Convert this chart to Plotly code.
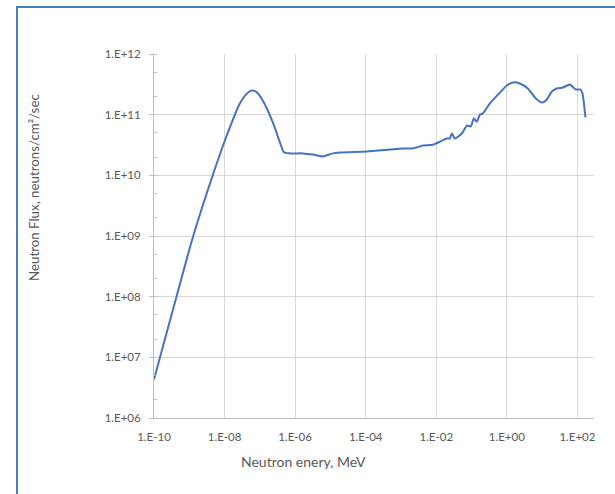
import plotly.graph_objects as go

# Neutron energy (MeV) and flux (neutrons/cm^2/sec)
energy_mev = [
    1.0e-10, 1.48e-10, 4.33e-10, 1.27e-9, 4.7e-9, 1.1e-8, 2.7e-8, 4.2e-8, 5.9e-8, 8.1e-8,
    1.22e-7, 2.35e-7, 3.7e-7, 4.8e-7, 7.1e-7, 1.66e-6, 3.2e-6, 6.1e-6, 1.18e-5,
    1.86e-5, 1.08e-4, 4.85e-4, 1.13e-3, 2.17e-3, 4.2e-3, 8.0e-3, 2.0e-2, 2.43e-2,
    2.77e-2, 3.37e-2, 5.3e-2, 7.4e-2, 9.5e-2, 0.116, 0.141, 0.172, 0.209, 0.33,
    0.63, 1.0, 1.48, 2.33, 3.93, 6.6, 10.3, 13.6, 18.8, 26.0, 38.6, 61.0, 74.0,
    90.0, 122.0, 139.0, 169.0,
]
flux = [
    4.3e6, 1.0e7, 1.0e8, 9.6e8, 1.03e10, 4.2e10, 1.53e11, 2.2e11, 2.5e11, 2.35e11,
    1.7e11, 7.4e10, 3.5e10, 2.4e10, 2.3e10, 2.3e10, 2.2e10, 2.05e10, 2.3e10,
    2.38e10, 2.48e10, 2.67e10, 2.78e10, 2.78e10, 3.1e10, 3.2e10, 4.05e10, 4.05e10,
    4.9e10, 4.05e10, 4.9e10, 6.6e10, 6.4e10, 8.65e10, 7.7e10, 1.0e11, 1.05e11, 1.53e11,
    2.3e11, 3.03e11, 3.4e11, 3.27e11, 2.7e11, 1.85e11, 1.59e11, 1.78e11, 2.41e11,
    2.7e11, 2.8e11, 3.15e11, 2.86e11, 2.6e11, 2.6e11, 2.23e11, 9.0e10,
]

x_tick_vals = [1e-10, 1e-8, 1e-6, 1e-4, 1e-2, 1e0, 1e2]
x_tick_text = ["1.E-10", "1.E-08", "1.E-06", "1.E-04", "1.E-02", "1.E+00", "1.E+02"]
y_tick_vals = [1e6, 1e7, 1e8, 1e9, 1e10, 1e11, 1e12]
y_tick_text = ["1.E+06", "1.E+07", "1.E+08", "1.E+09", "1.E+10", "1.E+11", "1.E+12"]

FONT = "Lato, 'Liberation Sans', sans-serif"
GRID = "#d9d9d9"
TEXT = "#595959"

fig = go.Figure()
fig.add_trace(go.Scatter(
    x=energy_mev, y=flux, mode="lines",
    line=dict(color="#4472c4", width=2, shape="spline", smoothing=0.6),
    hoverinfo="skip", showlegend=False,
))

fig.update_layout(
    width=615, height=494,
    margin=dict(l=154, r=21, t=54, b=76),
    paper_bgcolor="white", plot_bgcolor="white",
    font=dict(family=FONT, color=TEXT),
    xaxis=dict(
        type="log", range=[-10, 2.47],
        tickvals=x_tick_vals, ticktext=x_tick_text,
        tickfont=dict(size=11.5, color=TEXT),
        showgrid=True, gridcolor=GRID, gridwidth=1,
        showline=True, linecolor="#bfbfbf", linewidth=1,
        ticks="", ticklabelstandoff=8, zeroline=False,
    ),
    yaxis=dict(
        type="log", range=[6, 12],
        tickvals=y_tick_vals, ticktext=y_tick_text,
        tickfont=dict(size=11.5, color=TEXT),
        showgrid=True, gridcolor=GRID, gridwidth=1,
        showline=True, linecolor="#bfbfbf", linewidth=1,
        ticks="outside", ticklen=4, tickcolor="#bfbfbf",
        ticklabelstandoff=6, zeroline=False,
        minor=dict(ticks="inside", ticklen=3, tickcolor="#bfbfbf", showgrid=False),
    ),
    annotations=[
        dict(text="Neutron enery, MeV", xref="paper", yref="paper",
             x=(303 - 154) / 440, y=-(461 - 418) / 364, showarrow=False,
             xanchor="center", yanchor="middle",
             font=dict(size=14, color=TEXT, family=FONT)),
        dict(text="Neutron Flux, neutrons/cm²/sec", xref="paper", yref="paper",
             x=-(154 - 34) / 440, y=(418 - 188) / 364, showarrow=False,
             xanchor="center", yanchor="middle", textangle=-90,
             font=dict(size=13.3, color=TEXT, family=FONT)),
    ],
    shapes=[
        dict(type="rect", xref="paper", yref="paper",
             x0=-(154 - 17) / 440, x1=1.3, y0=-0.4, y1=(418 - 7) / 364,
             line=dict(color="#4a7ebb", width=2), layer="above"),
    ],
)

fig.write_html("out.html")
